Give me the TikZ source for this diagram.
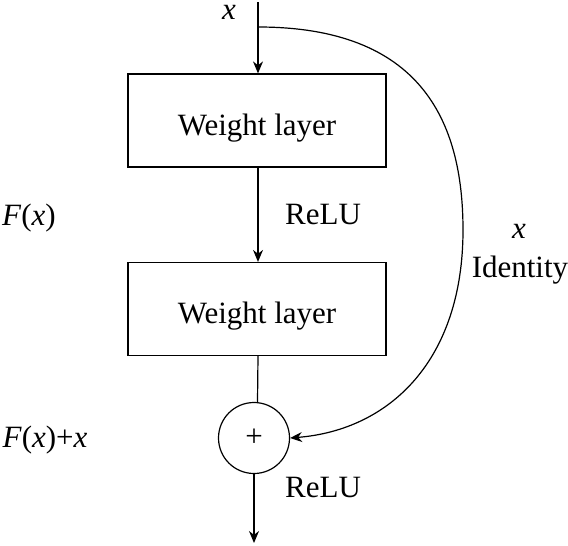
\documentclass[tikz,border=0pt]{standalone}
\usepackage{fontspec}
\setmainfont{Liberation Serif}
\usetikzlibrary{arrows.meta,calc}
\begin{document}
\begin{tikzpicture}[x=1pt,y=-1pt,
  txt/.style={font=\fontsize{31}{34}\selectfont, inner sep=0pt},
  wbox/.style={draw, line width=1.2pt, minimum width=258pt, minimum height=93pt, text height=29pt, text depth=0pt, font=\fontsize{31}{34}\selectfont},
  arr/.style={line width=1.2pt, -{Stealth[length=12pt,width=10pt]}},
  ln/.style={line width=1.2pt}]
\useasboundingbox (0,0) rectangle (568,546);
\coordinate (top) at (258,2);
\coordinate (br) at (258,27);
\node[wbox] (b1) at (257,120.5) {Weight layer};
\node[wbox] (b2) at (257,309) {Weight layer};
\node[draw, circle, line width=1.2pt, minimum size=71pt, inner sep=0pt, font=\fontsize{31}{34}\selectfont] (c) at (254,438) {+};
\coordinate (out) at (254,543);
\draw[arr] (top) -- (b1.north -| top);
\draw[arr] (b1.south -| top) -- (b2.north -| top);
\draw[ln] (b2.south -| top) -- ($(c.north)+(3.5,0.3)$);
\draw[arr] (c.south) -- (out);
\draw[arr] (br) .. controls (420,27) and (463,120) .. (463,230) .. controls (463,360) and (390,430) .. (c.east);
\node[txt, font=\fontsize{31}{34}\selectfont\itshape] (xt) at (229,12) {x};
\node[txt] (r1) at (323,215) {ReLU};
\node[txt] (r2) at (323,487) {ReLU};
\node[txt] (fx) at (29,218) {\textit{F}(\textit{x})};
\node[txt] (fxx) at (45,440) {\textit{F}(\textit{x})+\textit{x}};
\node[txt, font=\fontsize{31}{34}\selectfont\itshape] (xi) at (519,231) {x};
\node[txt] (id) at (520,270) {Identity};
\end{tikzpicture}
\end{document}
